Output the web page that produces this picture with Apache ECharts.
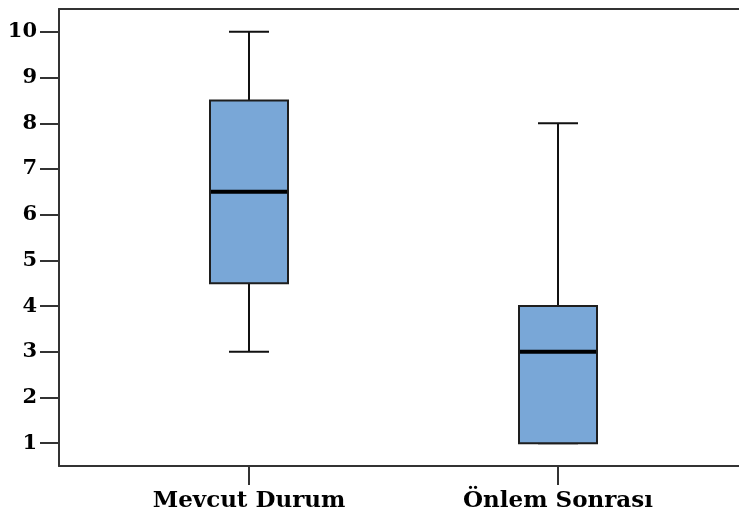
<!DOCTYPE html>
<html>
<head>
<meta charset="utf-8">
<script src="https://cdn.jsdelivr.net/npm/echarts@6/dist/echarts.min.js"></script>
<style>html,body{margin:0;padding:0;background:#fff}#c{width:739px;height:518px}</style>
</head>
<body>
<div id="c"></div>
<script>
var categories = ['Mevcut Durum', 'Önlem Sonrası'];
// [min, Q1, median, Q3, max]
var mevcutDurum = [3, 4.5, 6.5, 8.5, 10];
var onlemSonrasi = [1, 1, 3, 4, 8];
var yTicks = [1, 2, 3, 4, 5, 6, 7, 8, 9, 10];

var boxData = [mevcutDurum, onlemSonrasi];
var seriesData = boxData.map(function (d, i) { return [i].concat(d); });

var BOX_W = 78, CAP_W = 40;
function renderBox(params, api) {
  var idx = api.value(0);
  var pMin = api.coord([idx, api.value(1)]);
  var pQ1 = api.coord([idx, api.value(2)]);
  var pMed = api.coord([idx, api.value(3)]);
  var pQ3 = api.coord([idx, api.value(4)]);
  var pMax = api.coord([idx, api.value(5)]);
  var cx = pMed[0];
  var lineStyle = { stroke: '#111', lineWidth: 2, fill: null };
  return {
    type: 'group',
    children: [
      { type: 'line', shape: { x1: cx, y1: pQ3[1], x2: cx, y2: pMax[1] }, style: lineStyle },
      { type: 'line', shape: { x1: cx, y1: pQ1[1], x2: cx, y2: pMin[1] }, style: lineStyle },
      { type: 'line', shape: { x1: cx - CAP_W / 2, y1: pMax[1], x2: cx + CAP_W / 2, y2: pMax[1] }, style: lineStyle },
      { type: 'line', shape: { x1: cx - CAP_W / 2, y1: pMin[1], x2: cx + CAP_W / 2, y2: pMin[1] }, style: lineStyle },
      { type: 'rect', shape: { x: cx - BOX_W / 2, y: pQ3[1], width: BOX_W, height: pQ1[1] - pQ3[1] },
        style: { fill: '#79a7d7', stroke: '#1e1e1e', lineWidth: 2 } },
      { type: 'line', shape: { x1: cx - BOX_W / 2 + 1, y1: pMed[1], x2: cx + BOX_W / 2 - 1, y2: pMed[1] },
        style: { stroke: '#000', lineWidth: 4 } }
    ]
  };
}

var chart = echarts.init(document.getElementById('c'));
var serif = 'DejaVu Serif';
var frameLine = { show: true, lineStyle: { color: '#333', width: 2 } };
chart.setOption({
  animation: false,
  grid: [
    { left: 59, top: 9, right: 0, height: 457 },
    { left: 94.5, top: 9, width: 618, height: 457 }
  ],
  xAxis: [
    { gridIndex: 0, type: 'value', position: 'top', min: 0, max: 1,
      axisLine: frameLine, axisTick: { show: false }, axisLabel: { show: false }, splitLine: { show: false } },
    { gridIndex: 0, type: 'value', position: 'bottom', min: 0, max: 1,
      axisLine: frameLine, axisTick: { show: false }, axisLabel: { show: false }, splitLine: { show: false } },
    {
      gridIndex: 1, type: 'category', data: categories, boundaryGap: true,
      axisLine: { show: false },
      axisTick: { show: true, alignWithLabel: true, length: 19, lineStyle: { color: '#333', width: 2 } },
      axisLabel: { margin: 24, fontFamily: serif, fontWeight: 'bold', fontSize: 23, color: '#000' },
      splitLine: { show: false }
    }
  ],
  yAxis: [
    {
      gridIndex: 0, type: 'value', min: 0.5, max: 10.5,
      axisLine: frameLine,
      axisTick: { show: true, length: 19, customValues: yTicks, lineStyle: { color: '#333', width: 2 } },
      axisLabel: { margin: 22, customValues: yTicks, fontFamily: serif, fontWeight: 'bold', fontSize: 21, color: '#000' },
      splitLine: { show: false }
    },
    { gridIndex: 1, type: 'value', min: 0.5, max: 10.5, show: false, splitLine: { show: false } }
  ],
  series: [
    {
      type: 'custom', xAxisIndex: 2, yAxisIndex: 1,
      data: seriesData,
      encode: { x: 0, y: [1, 2, 3, 4, 5] },
      renderItem: renderBox
    }
  ]
});
</script>
</body>
</html>
